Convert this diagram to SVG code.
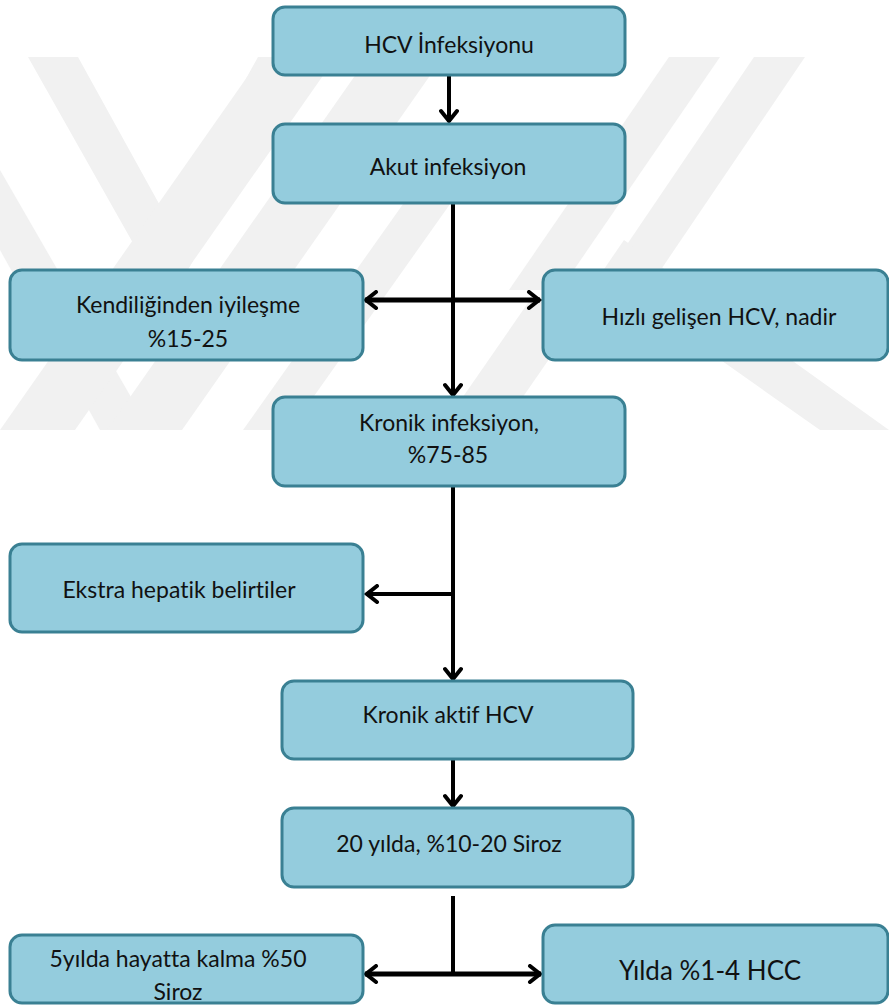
<svg xmlns="http://www.w3.org/2000/svg" width="889" height="1005" viewBox="0 0 889 1005">
  <style>
    .box { fill: #94CCDD; stroke: #3A8093; stroke-width: 3; }
    .lbl { font-family: Lato, "Open Sans", "Liberation Sans", sans-serif; font-size: 23px; fill: #111; text-anchor: middle; font-variant-ligatures: none; font-feature-settings: "liga" 0; }
    .big { font-size: 26px; }
    .wire { fill: none; stroke: #000; stroke-width: 4; }
    .thick { stroke-width: 5; }
    .wm { fill: #f1f1f1; }
  </style>
  <defs>
    <marker id="head" viewBox="-14 -10 16 20" markerUnits="userSpaceOnUse" markerWidth="16" markerHeight="20" refX="0" refY="0" orient="auto-start-reverse">
      <path d="M-11,-8 L-1,0 L-11,8" fill="none" stroke="#000" stroke-width="4" stroke-linecap="round" stroke-linejoin="miter"/>
    </marker>
    <clipPath id="wmclip"><rect x="0" y="57" width="889" height="373"/></clipPath>
  </defs>
  <rect width="889" height="1005" fill="#fff"/>

  <g id="watermark" clip-path="url(#wmclip)">
    <polygon class="wm" points="28,57 78,57 168,220 258,57 308,57 168,305"/>
    <polygon class="wm" points="0,170 0,250 100,430 150,430"/>
    <polygon class="wm" points="0,430 75,430 336,57 261,57"/>
    <polygon class="wm" points="107,430 182,430 443,57 368,57"/>
    <polygon class="wm" points="243,430 290,430 460,190 413,190"/>
    <polygon class="wm" points="669,57 720,57 560,290 509,290"/>
    <polygon class="wm" points="754,57 805,57 620,330 569,330"/>
    <polygon class="wm" points="624,240 889,430 820,430 600,275"/>
    <polygon class="wm" points="440,430 500,430 590,300 530,300"/>
  </g>

  <g id="connectors">
    <line class="wire" x1="449" y1="76" x2="449" y2="122" marker-end="url(#head)"/>
    <line class="wire" x1="453" y1="203" x2="453" y2="396" marker-end="url(#head)"/>
    <line class="wire thick" x1="365" y1="300" x2="540" y2="300" marker-start="url(#head)" marker-end="url(#head)"/>
    <line class="wire" x1="453" y1="486" x2="453" y2="680" marker-end="url(#head)"/>
    <line class="wire" x1="453" y1="594" x2="366" y2="594" marker-end="url(#head)"/>
    <line class="wire" x1="453" y1="759" x2="453" y2="807" marker-end="url(#head)"/>
    <line class="wire" x1="453" y1="896" x2="453" y2="974"/>
    <line class="wire thick" x1="365" y1="974" x2="541" y2="974" marker-start="url(#head)" marker-end="url(#head)"/>
  </g>

  <g id="n1">
    <rect class="box" x="273" y="7" width="352" height="68" rx="12"/>
    <text class="lbl" x="449" y="53">HCV İnfeksiyonu</text>
  </g>
  <g id="n2">
    <rect class="box" x="273" y="124" width="352" height="79" rx="12"/>
    <text class="lbl" x="448" y="175">Akut infeksiyon</text>
  </g>
  <g id="n3">
    <rect class="box" x="10" y="270" width="353" height="90" rx="12"/>
    <text class="lbl" x="188" y="313">Kendiliğinden iyileşme</text>
    <text class="lbl" x="188" y="347">%15-25</text>
  </g>
  <g id="n4">
    <rect class="box" x="543" y="270" width="345" height="90" rx="12"/>
    <text class="lbl" x="719" y="325">Hızlı gelişen HCV, nadir</text>
  </g>
  <g id="n5">
    <rect class="box" x="273" y="397" width="352" height="89" rx="12"/>
    <text class="lbl" x="449" y="431">Kronik infeksiyon,</text>
    <text class="lbl" x="448" y="463">%75-85</text>
  </g>
  <g id="n6">
    <rect class="box" x="10" y="544" width="353" height="88" rx="12"/>
    <text class="lbl" x="179" y="598">Ekstra hepatik belirtiler</text>
  </g>
  <g id="n7">
    <rect class="box" x="282" y="681" width="351" height="78" rx="12"/>
    <text class="lbl" x="448" y="723">Kronik aktif HCV</text>
  </g>
  <g id="n8">
    <rect class="box" x="282" y="808" width="351" height="79" rx="12"/>
    <text class="lbl" x="449" y="852">20 yılda, %10-20 Siroz</text>
  </g>
  <g id="n9">
    <rect class="box" x="10" y="935" width="353" height="68" rx="12"/>
    <text class="lbl" x="178" y="967">5yılda hayatta kalma %50</text>
    <text class="lbl" x="178" y="1000">Siroz</text>
  </g>
  <g id="n10">
    <rect class="box" x="543" y="925" width="345" height="78" rx="12"/>
    <text class="lbl big" x="710" y="980">Yılda %1-4 HCC</text>
  </g>
</svg>
